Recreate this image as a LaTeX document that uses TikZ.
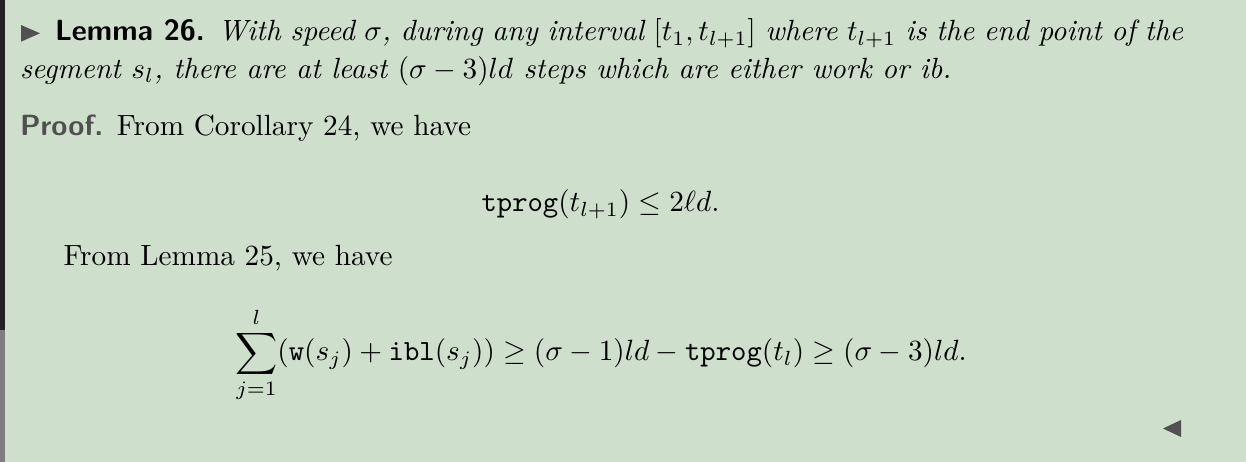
\documentclass[tikz,border=0pt]{standalone}
\usepackage{amsmath,amssymb}
\definecolor{bggreen}{RGB}{206,224,204}
\definecolor{bardark}{RGB}{35,35,35}
\definecolor{bargray}{RGB}{125,125,125}
\definecolor{headgray}{RGB}{80,80,80}
\tikzset{
  txt/.style={inner sep=0pt, outer sep=0pt, anchor=base west, text=black, scale=0.975, transform shape},
  disp/.style={inner sep=0pt, outer sep=0pt, anchor=base, text=black, scale=0.975, transform shape},
  marker/.style={fill=headgray, draw=none}
}
\begin{document}
\begin{tikzpicture}[x=0.333333pt, y=-0.333333pt]
\useasboundingbox (0,0) rectangle (1246,462);
\fill[bggreen] (0,0) rectangle (1246,462);
\fill[bardark] (0,0) rectangle (5,330);
\fill[bargray] (0,330) rectangle (5,462);
% theorem head marker
\fill[marker] (21,25) -- (40,33.3) -- (21,41.7) -- cycle;
\node[txt] (head) at (55,41) {\sffamily\bfseries Lemma 26.};
\node[txt] (l1) at (218,41) {\hbox to 329.9pt{\itshape With speed $\sigma$, during any interval $[t_1,t_{l+1}]$ where $t_{l+1}$ is the end point of the}};
\node[txt] (l2) at (20,78.5) {\itshape segment $s_l$, there are at least $(\sigma-3)ld$ steps which are either work or ib.};
\node[txt, text=headgray] (proof) at (20,136) {\sffamily\bfseries Proof.};
\node[txt] (p1) at (117,136) {From Corollary 24, we have};
\node[disp] (d1) at (600.5,212) {$\mathtt{tprog}(t_{l+1}) \le 2\ell d.$};
\node[txt] (p2) at (63.5,266) {From Lemma 25, we have};
\node[disp] (d2) at (601,361) {$\displaystyle \sum_{j=1}^{l}(\mathtt{w}(s_j)+\mathtt{ibl}(s_j)) \ge (\sigma-1)ld-\mathtt{tprog}(t_l)\ge(\sigma-3)ld.$};
% end of proof marker
\fill[marker] (1181,420) -- (1163,428.5) -- (1181,437) -- cycle;
\end{tikzpicture}
\end{document}
